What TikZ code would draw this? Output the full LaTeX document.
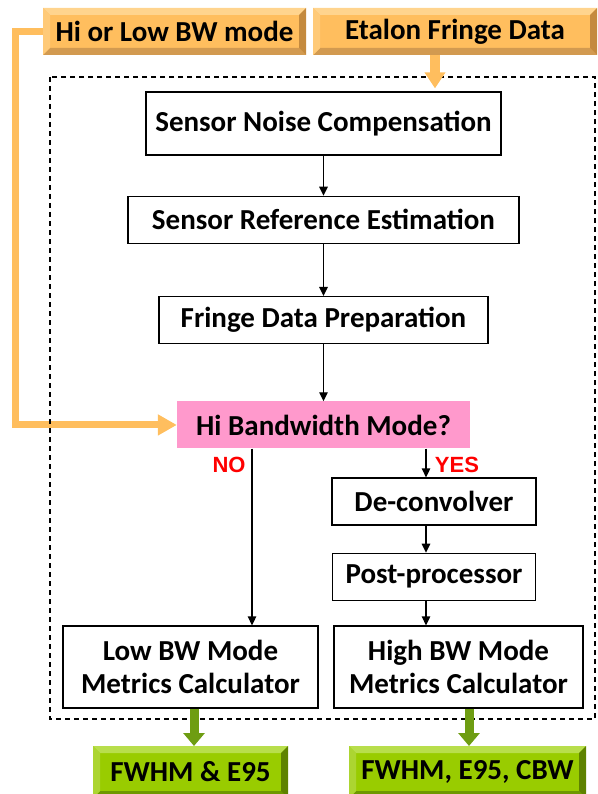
\documentclass[tikz,border=0pt]{standalone}
\usepackage{fontspec}
\setmainfont{Carlito}
\newfontfamily\arialfont{Liberation Sans}
\usepackage{xcolor}
\usetikzlibrary{arrows.meta,positioning,calc}
\definecolor{inorange}{HTML}{FFBE5E}
\definecolor{inorangehi}{HTML}{FFD48E}
\definecolor{inorangeside}{HTML}{FFCA78}
\definecolor{inorangelo}{HTML}{D29A50}
\definecolor{inorangeshade}{HTML}{C48A3E}
\definecolor{outgreen}{HTML}{99CC00}
\definecolor{outgreenhi}{HTML}{B8DE4C}
\definecolor{outgreenside}{HTML}{ACD531}
\definecolor{outgreenlo}{HTML}{6E9800}
\definecolor{outgreenshade}{HTML}{5E8200}
\definecolor{outarrow}{HTML}{6E9D12}
\definecolor{modepink}{HTML}{FF99CC}
\definecolor{answerred}{HTML}{FF0000}
\tikzset{
    every picture/.style={line join=miter},
    bevel/.style n args={4}{path picture={
      \coordinate (bnw) at (path picture bounding box.north west);
      \coordinate (bse) at (path picture bounding box.south east);
      \fill[#1] (bnw) -- (bnw -| bse) -- ($(bnw -| bse)+(-7pt,-7pt)$) -- ($(bnw)+(7pt,-7pt)$) -- cycle;
      \fill[#2] (bse) -- (bse -| bnw) -- ($(bse -| bnw)+(7pt,7pt)$) -- ($(bse)+(-7pt,7pt)$) -- cycle;
      \fill[#3] (bnw) -- (bse -| bnw) -- ($(bse -| bnw)+(7pt,7pt)$) -- ($(bnw)+(7pt,-7pt)$) -- cycle;
      \fill[#4] (bse) -- (bnw -| bse) -- ($(bnw -| bse)+(-7pt,-7pt)$) -- ($(bse)+(-7pt,7pt)$) -- cycle;
    }},
    stagebox/.style={draw=black,fill=white,line width=1.3pt,inner sep=0pt,
      minimum height=47pt,font=\fontsize{29}{33}\selectfont\bfseries,align=center},
    decisionbox/.style={fill=modepink,inner sep=0pt,minimum height=47pt,
      font=\fontsize{29}{33}\selectfont\bfseries},
    inputbox/.style={fill=inorange,inner sep=0pt,outer sep=0pt,minimum height=47pt,
      font=\fontsize{29}{33}\selectfont\bfseries,
      bevel={inorangehi}{inorangelo}{inorangeside}{inorangeshade}},
    outputbox/.style={fill=outgreen,inner sep=0pt,outer sep=0pt,minimum height=52pt,
      font=\fontsize{29}{33}\selectfont\bfseries,
      bevel={outgreenhi}{outgreenlo}{outgreenside}{outgreenshade}},
    flowarrow/.style={-{Triangle[length=9pt,width=8.5pt]},draw=black,line width=1.3pt},
    feedarrow/.style={-{Triangle[length=19pt,width=20pt]},draw=inorange,line width=7pt},
    resultarrow/.style={-{Triangle[length=13pt,width=21pt]},draw=outarrow,line width=9pt},
    frame/.style={draw=black,line width=1.4pt,dash pattern=on 5pt off 4pt},
    answerlabel/.style={text=answerred,inner sep=0pt,
      font=\arialfont\fontsize{22}{26}\selectfont\bfseries}
}

\begin{document}
\begin{tikzpicture}[x=1pt,y=-1pt]
    \useasboundingbox (0,0) rectangle (597,794);
    % inputs
    \node[inputbox,minimum width=263pt] (hilow) at (174.5,31.5) {Hi or Low BW mode};
    \node[inputbox,minimum width=284pt] (etalon) at (455,31.5) {Etalon Fringe Data};
    % processing chain
    \node[stagebox,minimum width=355pt,minimum height=63pt] (noise) at (323.5,123.5) {Sensor Noise Compensation};
    \node[stagebox,minimum width=391pt,below=40pt of noise] (reference) {Sensor Reference Estimation};
    \node[stagebox,minimum width=329pt,below=52pt of reference] (fringe) {Fringe Data Preparation};
    \node[decisionbox,minimum width=293pt,below=57pt of fringe] (mode) {Hi Bandwidth Mode?};
    \node[stagebox,minimum width=204pt] (deconv) at (434,501.5) {De-convolver};
    \node[stagebox,minimum width=203pt,below=27pt of deconv] (postproc) {Post-processor};
    \node[stagebox,minimum width=255pt,minimum height=82pt] (lowcalc) at (190.5,667) {Low BW Mode\\Metrics Calculator};
    \node[stagebox,minimum width=249pt,minimum height=82pt] (highcalc) at (458.5,667) {High BW Mode\\Metrics Calculator};
    % outputs
    \node[outputbox,minimum width=195pt] (fwhmlow) at (190.5,772) {FWHM \& E95};
    \node[outputbox,minimum width=237pt] (fwhmhigh) at (467.5,772) {FWHM, E95, CBW};
    % branch columns
    \coordinate (nox) at (252,0);
    \coordinate (yesx) at (426,0);
    \coordinate (feedx) at (435,0);
    \coordinate (lowx) at (194,0);
    \coordinate (highx) at (469,0);
    \draw[feedarrow] (hilow.west) -- ++(-28pt,0) |- (mode.west);
    \draw[frame] (50,77) rectangle (595,719);
    \draw[feedarrow,line width=10pt,-{Triangle[length=16pt,width=20pt]}] (etalon.south -| feedx) -- ([yshift=3pt]noise.north -| feedx);
    \draw[flowarrow] (noise) -- (reference);
    \draw[flowarrow] (reference) -- (fringe);
    \draw[flowarrow] (fringe) -- (mode);
    \draw[flowarrow] (mode.south -| nox) -- (lowcalc.north -| nox);
    \draw[flowarrow] (mode.south -| yesx) -- (deconv.north -| yesx);
    \draw[flowarrow] (deconv.south -| yesx) -- (postproc.north -| yesx);
    \draw[flowarrow] (postproc.south -| yesx) -- (highcalc.north -| yesx);
    \node[answerlabel] (no) at (229,465) {NO};
    \node[answerlabel] (yes) at (457,465) {YES};
    \draw[resultarrow] (lowcalc.south -| lowx) -- (fwhmlow.north -| lowx);
    \draw[resultarrow] (highcalc.south -| highx) -- (fwhmhigh.north -| highx);
\end{tikzpicture}
\end{document}
